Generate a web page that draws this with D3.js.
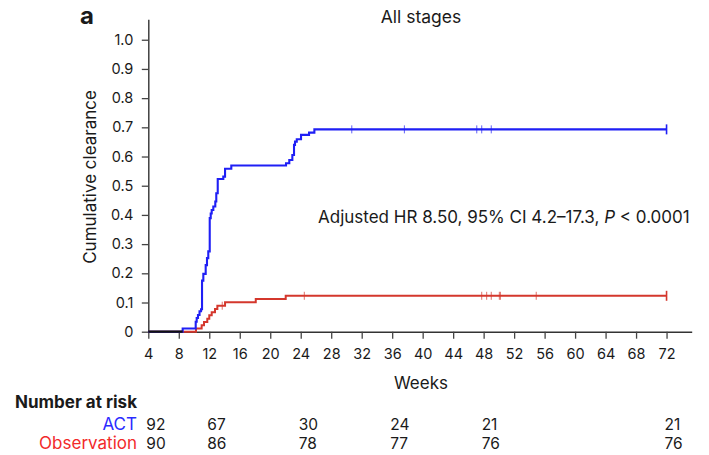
<!DOCTYPE html>
<html><head><meta charset="utf-8">
<script src="https://cdn.jsdelivr.net/npm/d3@7"></script>
<style>
body{margin:0;background:#fff}
svg{display:block}
text{font-family:Inter, "Noto Sans", sans-serif; fill:#1a1a1a}
</style>
</head><body>
<svg id="chart" width="709" height="455"></svg>
<script>
// ---- data ----
const xTicks = [4,8,12,16,20,24,28,32,36,40,44,48,52,56,60,64,68,72];
const yTicks = [0,0.1,0.2,0.3,0.4,0.5,0.6,0.7,0.8,0.9,1.0];
const seriesNames = ["ACT","Observation"];
const actTimes  = [8.51,10.22,10.35,10.52,10.72,10.92,11.05,11.22,11.53,11.70,11.87,12.06,12.19,12.32,12.53,12.79,12.92,13.11,13.84,14.07,14.89,22.07,22.5,22.9,23.12,23.25,23.48,24.04,25.09,25.79];
const actValues = [0.011,0.034,0.047,0.057,0.070,0.077,0.175,0.198,0.228,0.252,0.275,0.389,0.405,0.417,0.429,0.446,0.474,0.523,0.531,0.558,0.569,0.577,0.588,0.605,0.640,0.651,0.659,0.674,0.682,0.693];
const actCensor = [30.7,37.6,47.1,47.75,49.0,72];
const obsTimes  = [10.26,11.0,11.31,11.74,12.0,12.32,12.75,13.06,14.07,18.1,22.03];
const obsValues = [0.011,0.022,0.033,0.044,0.056,0.067,0.078,0.089,0.101,0.112,0.123];
const obsCensor = [13.7,24.47,47.75,48.4,49.0,50.06,50.2,54.9,72];
const startWeek = 4, endWeek = 72;
const riskWeeks = [4,12,24,36,48,72];
const riskACT = [92,67,30,24,21,21];
const riskObs = [90,86,78,77,76,76];

// ---- layout ----
const svg = d3.select("#chart");
const x = d3.scaleLinear().domain([4, 75.3]).range([148.3, 691.7]);
const y = d3.scaleLinear().domain([0, 1.07]).range([331.7, 19.3]);
const blue = "#1f1ff5", red = "#d4372c";
const blueLabel = "#2b2bff", redLabel = "#f22a2a";

// axes
const xAxis = svg.append("g").attr("transform", `translate(0,${y(0)})`)
  .call(d3.axisBottom(x).tickValues(xTicks).tickSize(7).tickSizeOuter(0).tickPadding(9.6));
const yAxis = svg.append("g").attr("transform", `translate(${x(4)},0)`)
  .call(d3.axisLeft(y).tickValues(yTicks).tickSize(6.5).tickSizeOuter(0).tickPadding(8.5)
    .tickFormat(d => d === 0 ? "0" : d3.format(".1f")(d)));
[xAxis, yAxis].forEach(g => {
  g.select(".domain").attr("stroke", "#333").attr("stroke-width", 1.4);
  g.selectAll(".tick line").attr("stroke", "#444").attr("stroke-width", 1.3);
  g.selectAll(".tick text").attr("font-size", 14.5).attr("font-family", "Inter, sans-serif").attr("fill", "#1a1a1a");
});

// curves
function stepPoints(times, values) {
  const pts = [[startWeek, 0]];
  times.forEach((t, i) => pts.push([t, values[i]]));
  pts.push([endWeek, values[values.length - 1]]);
  return pts;
}
function valueAt(times, values, t) {
  let v = 0;
  times.forEach((tt, i) => { if (tt <= t) v = values[i]; });
  return v;
}
const line = d3.line().x(d => x(d[0])).y(d => y(d[1])).curve(d3.curveStepAfter);

const series = [
  {times: obsTimes, values: obsValues, censor: obsCensor, color: red, w: 2},
  {times: actTimes, values: actValues, censor: actCensor, color: blue, w: 2.1}
];
series.forEach(s => {
  svg.append("path").datum(stepPoints(s.times, s.values))
    .attr("d", line).attr("fill", "none").attr("stroke", s.color)
    .attr("stroke-width", s.w).attr("stroke-linejoin", "miter");
  svg.append("g").selectAll("line").data(s.censor).join("line")
    .attr("x1", d => x(d)).attr("x2", d => x(d))
    .attr("y1", d => y(valueAt(s.times, s.values, d)) - (d === endWeek ? 5 : 4))
    .attr("y2", d => y(valueAt(s.times, s.values, d)) + (d === endWeek ? 5 : 4))
    .attr("stroke", s.color).attr("stroke-width", d => d === endWeek ? 1.6 : 1).attr("opacity", d => d === endWeek ? 1 : 0.7);
});
// shared baseline before first event (both curves overlap)
const firstEvent = Math.min(actTimes[0], obsTimes[0]);
svg.append("line").attr("x1", x(startWeek)).attr("x2", x(firstEvent))
  .attr("y1", y(0)).attr("y2", y(0)).attr("stroke", "#111").attr("stroke-width", 2.2);

// texts
svg.append("text").attr("x", 80).attr("y", 24).attr("font-size", 24).attr("font-weight", 700).text("a");
svg.append("text").attr("x", 421).attr("y", 23).attr("text-anchor", "middle").attr("font-size", 17.5).text("All stages");
svg.append("text").attr("x", 421).attr("y", 389).attr("text-anchor", "middle").attr("font-size", 17).text("Weeks");
svg.append("text").attr("transform", `translate(96,${y(0.53)}) rotate(-90)`).attr("text-anchor", "middle")
  .attr("font-size", 17).text("Cumulative clearance");
const ann = svg.append("text").attr("x", 318).attr("y", 223).attr("font-size", 17);
ann.append("tspan").text("Adjusted HR 8.50, 95% CI 4.2\u201317.3, ");
ann.append("tspan").attr("font-style", "italic").text("P");
ann.append("tspan").text(" < 0.0001");

// risk table
svg.append("text").attr("x", 15).attr("y", 408).attr("font-size", 17).attr("font-weight", 700).text("Number at risk");
const rows = [
  {name: seriesNames[0], vals: riskACT, color: blueLabel, yy: 430},
  {name: seriesNames[1], vals: riskObs, color: redLabel, yy: 449}
];
rows.forEach(r => {
  svg.append("text").attr("x", 137).attr("y", r.yy).attr("text-anchor", "end")
    .attr("font-size", 17).style("fill", r.color).text(r.name);
  svg.append("g").selectAll("text").data(riskWeeks).join("text")
    .attr("x", d => x(d) - 2).attr("y", r.yy).attr("font-size", 15.5)
    .text((d, i) => r.vals[i]);
});
</script>
</body></html>
